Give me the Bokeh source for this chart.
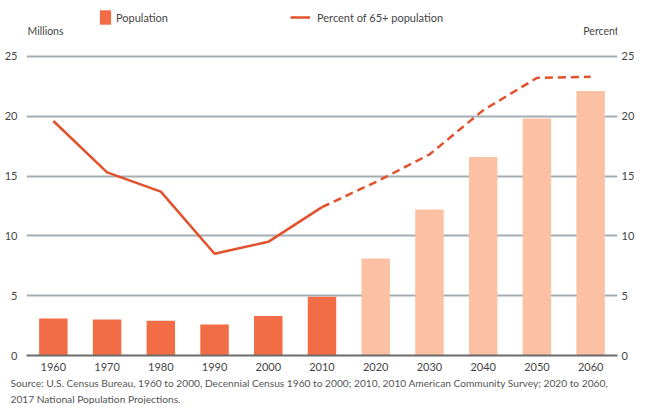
from bokeh.plotting import figure
from bokeh.models import (Range1d, LinearAxis, Label, Legend, LegendItem, Title,
                          ColumnDataSource, FixedTicker, FactorRange)
from bokeh.embed import file_html
from bokeh.resources import INLINE

# ---- data ----
years = ["1960", "1970", "1980", "1990", "2000", "2010",
         "2020", "2030", "2040", "2050", "2060"]
population = [3.1, 3.0, 2.9, 2.6, 3.3, 4.9, 8.1, 12.2, 16.6, 19.8, 22.1]
percent = [19.6, 15.3, 13.7, 8.5, 9.5, 12.4, 14.5, 16.8, 20.5, 23.2, 23.3]
n_observed = 6  # 1960-2010 observed, 2020-2060 projected
y_ticks = [0, 5, 10, 15, 20, 25]
source_line1 = ("Source: U.S. Census Bureau, 1960 to 2000, Decennial Census 1960 to 2000; "
                "2010, 2010 American Community Survey; 2020 to 2060,")
source_line2 = "2017 National Population Projections."

FONT = "Lato"
TXT = "#454545"
DARK = "#F26C45"
LIGHT = "#FBC1A2"
LINE = "#E2512B"
GRID = "#A3ADB4"
Y_TOP = 29.17  # room for the header above the 25 gridline

p = figure(width=637, height=404, x_range=FactorRange(*years),
           y_range=Range1d(0, Y_TOP), output_backend="svg",
           toolbar_location=None, min_border_left=26, min_border_right=16,
           min_border_top=6, min_border_bottom=48)
p.outline_line_color = None

obs = ColumnDataSource(dict(x=years[:n_observed], top=population[:n_observed]))
proj = ColumnDataSource(dict(x=years[n_observed:], top=population[n_observed:]))
bars_obs = p.vbar(x="x", top="top", width=0.53, source=obs, fill_color=DARK, line_color=None)
p.vbar(x="x", top="top", width=0.53, source=proj, fill_color=LIGHT, line_color=None)

line_solid = p.line(years[:n_observed], percent[:n_observed], line_color=LINE,
                    line_width=2.5, line_join="round")
p.line(years[n_observed - 1:], percent[n_observed - 1:], line_color=LINE,
       line_width=2.5, line_dash="8 5", line_join="round")

# grid
p.xgrid.grid_line_color = None
p.ygrid.ticker = FixedTicker(ticks=y_ticks[1:])
p.ygrid.grid_line_color = GRID
p.ygrid.grid_line_width = 2
p.ygrid.level = "underlay"

# axes
p.xaxis.axis_line_color = "#6b6b6b"
p.xaxis.axis_line_width = 2
p.xaxis.major_tick_line_color = None
p.xaxis.major_tick_out = 0
p.xaxis.major_label_standoff = 7
p.xaxis.major_label_text_font = FONT
p.xaxis.major_label_text_font_size = "11px"
p.xaxis.major_label_text_color = TXT

p.yaxis.ticker = FixedTicker(ticks=y_ticks)
p.yaxis.axis_line_color = None
p.yaxis.major_tick_line_color = None
p.yaxis.minor_tick_line_color = None
p.yaxis.major_tick_out = 0
p.yaxis.major_label_standoff = 9
p.yaxis.major_label_text_font = FONT
p.yaxis.major_label_text_font_size = "11px"
p.yaxis.major_label_text_color = TXT

right = LinearAxis(ticker=FixedTicker(ticks=y_ticks), axis_line_color=None,
                   major_tick_line_color=None, minor_tick_line_color=None,
                   major_tick_out=0, major_label_standoff=4,
                   major_label_text_font=FONT, major_label_text_font_size="11px",
                   major_label_text_color=TXT)
p.add_layout(right, "right")

# axis titles (inside the header strip of the frame)
p.add_layout(Label(x=1, y=325, x_units="screen", y_units="screen", text="Millions",
                   text_font=FONT, text_font_size="10.5px", text_color=TXT,
                   text_baseline="middle"))
p.add_layout(Label(x=592, y=325, x_units="screen", y_units="screen", text="Percent",
                   text_font=FONT, text_font_size="10.5px", text_color=TXT,
                   text_baseline="middle", text_align="right"))

# legends
leg1 = Legend(items=[LegendItem(label="Population", renderers=[bars_obs])],
              location=(72, 329), glyph_width=14, glyph_height=18, label_standoff=4,
              padding=0, margin=0, border_line_color=None, background_fill_alpha=0,
              label_text_font=FONT, label_text_font_size="11px", label_text_color=TXT)
leg2 = Legend(items=[LegendItem(label="Percent of 65+ population", renderers=[line_solid])],
              location=(264, 329), glyph_width=20, glyph_height=18, label_standoff=7,
              padding=0, margin=0, border_line_color=None, background_fill_alpha=0,
              label_text_font=FONT, label_text_font_size="11px", label_text_color=TXT)
p.add_layout(leg1)
p.add_layout(leg2)

# source note
for i, txt in enumerate([source_line1, source_line2]):
    p.add_layout(Title(text=txt, align="left", offset=-16, standoff=3 if i == 0 else 0,
                       text_font=FONT, text_font_size="10.2px", text_font_style="normal",
                       text_color="#555555"), "below")

open("out.html", "w").write(file_html(p, INLINE))
